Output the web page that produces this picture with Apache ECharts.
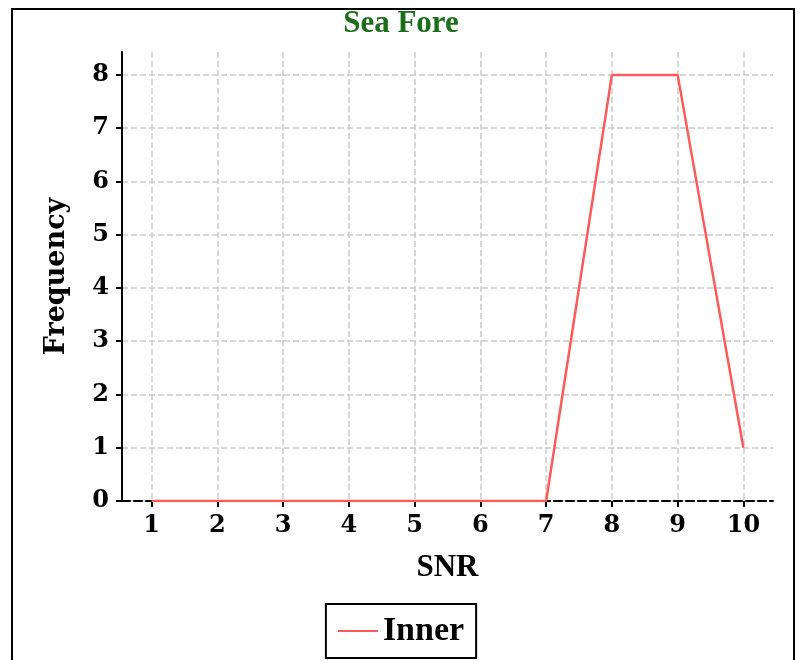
<!DOCTYPE html>
<html>
<head>
<meta charset="utf-8">
<script src="https://cdn.jsdelivr.net/npm/echarts@6/dist/echarts.min.js"></script>
<style>html,body{margin:0;padding:0;background:#fff;}#c{width:802px;height:660px;}</style>
</head>
<body>
<div id="c"></div>
<script>
const snr = [1, 2, 3, 4, 5, 6, 7, 8, 9, 10];
const innerFreq = [0, 0, 0, 0, 0, 0, 0, 8, 8, 1];
const yTicks = [0, 1, 2, 3, 4, 5, 6, 7, 8];

const chart = echarts.init(document.getElementById('c'));
const serif = 'Liberation Serif';
const wide = 'DejaVu Serif';
chart.setOption({
  animation: false,
  backgroundColor: '#fff',
  title: {
    text: 'Sea Fore', left: 'center', top: 3,
    textStyle: { color: '#1a6e1a', fontFamily: serif, fontWeight: 'bold', fontSize: 31 }
  },
  graphic: [{
    type: 'rect', silent: true, z: 100,
    shape: { x: 12, y: 9, width: 782, height: 720 },
    style: { fill: 'none', stroke: '#000', lineWidth: 2 }
  }],
  grid: { left: 122, right: 29, top: 52, bottom: 159, containLabel: false },
  xAxis: {
    type: 'value', min: 0.55, max: 10.45,
    name: 'SNR', nameLocation: 'middle', nameGap: 51,
    nameTextStyle: { color: '#000', fontFamily: serif, fontWeight: 'bold', fontSize: 31 },
    axisLine: { show: true, onZero: false, lineStyle: { color: '#000', width: 2, type: 'dashed' } },
    axisTick: { show: true, length: 6, customValues: snr, lineStyle: { color: '#000', width: 2 } },
    axisLabel: { customValues: snr, margin: 13, color: '#000', fontFamily: wide, fontWeight: 'bold', fontSize: 24 },
    splitLine: { show: true, lineStyle: { color: '#cccccc', type: 'dashed', width: 1.5 } }
  },
  yAxis: {
    type: 'value', min: 0, max: 8.43,
    name: 'Frequency', nameLocation: 'middle', nameGap: 52,
    nameTextStyle: { color: '#000', fontFamily: wide, fontWeight: 'bold', fontSize: 27 },
    axisLine: { show: true, lineStyle: { color: '#000', width: 2 } },
    axisTick: { show: true, length: 6, customValues: yTicks, lineStyle: { color: '#000', width: 2 } },
    axisLabel: { customValues: yTicks, margin: 13, color: '#000', fontFamily: wide, fontWeight: 'bold', fontSize: 24 },
    splitLine: { show: true, lineStyle: { color: '#cccccc', type: 'dashed', width: 1.5 } }
  },
  legend: {
    left: 'center', bottom: 2,
    data: ['Inner'],
    borderColor: '#000', borderWidth: 2, padding: [10, 12],
    itemWidth: 40, itemHeight: 10, itemGap: 10,
    icon: 'path://M0,4 L40,4 L40,6 L0,6 Z',
    textStyle: { color: '#000', fontFamily: serif, fontWeight: 'bold', fontSize: 34 }
  },
  series: [{
    name: 'Inner', type: 'line',
    data: snr.map((x, i) => [x, innerFreq[i]]),
    showSymbol: false, symbol: 'none',
    lineStyle: { color: '#ff5a5a', width: 2.5 },
    itemStyle: { color: '#ff5a5a' }
  }]
});
</script>
</body>
</html>
